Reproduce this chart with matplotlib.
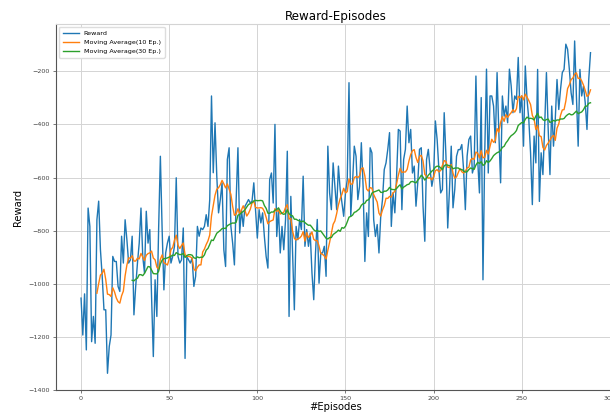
import matplotlib.pyplot as plt
import numpy as np
import pandas as pd

# rewards per episode
rewards = [
	-1054, -1193, -1038, -1249, -715, -784, -1218, -1123, -1224, -759,
	-689, -872, -972, -1098, -1098, -1337, -1236, -1193, -897, -916,
	-916, -1010, -1029, -821, -922, -759, -834, -922, -910, -821,
	-1117, -1010, -922, -847, -715, -897, -960, -727, -847, -796,
	-1048, -1274, -985, -1123, -796, -520, -796, -1023, -884, -847,
	-821, -922, -897, -859, -601, -897, -922, -910, -790, -1281,
	-897, -910, -922, -903, -1010, -972, -784, -821, -790, -796,
	-784, -740, -784, -683, -293, -582, -394, -595, -733, -683,
	-620, -872, -935, -532, -488, -784, -847, -929, -683, -488,
	-809, -721, -784, -708, -696, -683, -696, -689, -620, -721,
	-828, -721, -771, -733, -822, -897, -941, -608, -583, -696,
	-400, -822, -721, -884, -784, -872, -759, -501, -1123, -671,
	-878, -1098, -784, -834, -758, -796, -595, -859, -796, -859,
	-809, -960, -1060, -884, -758, -998, -884, -884, -859, -972,
	-482, -658, -721, -545, -633, -721, -557, -645, -696, -746,
	-658, -608, -243, -746, -620, -482, -520, -683, -633, -469,
	-633, -916, -733, -822, -488, -507, -758, -822, -777, -884,
	-746, -683, -570, -545, -494, -431, -784, -658, -733, -595,
	-419, -425, -721, -532, -494, -331, -469, -419, -583, -557,
	-708, -620, -494, -488, -708, -840, -532, -494, -570, -633,
	-595, -387, -457, -570, -658, -645, -356, -520, -790, -645,
	-482, -714, -645, -520, -495, -495, -476, -570, -721, -520,
	-457, -444, -583, -558, -218, -533, -658, -299, -985, -507,
	-192, -583, -293, -293, -331, -469, -205, -432, -620, -293,
	-369, -331, -394, -192, -255, -356, -293, -306, -148, -356,
	-293, -482, -180, -306, -382, -507, -702, -444, -545, -193,
	-690, -507, -589, -407, -205, -419, -589, -331, -482, -382,
	-231, -344, -268, -205, -193, -98, -117, -193, -281, -325,
	-86, -293, -482, -193, -293, -256, -318, -419, -231, -130,
]
series_labels = ['Reward', 'Moving Average(10 Ep.)', 'Moving Average(30 Ep.)']


def plot_rewards():
	reward = pd.Series(rewards)
	ma10 = reward.rolling(10).mean()
	ma30 = reward.rolling(30).mean()

	fig = plt.figure(figsize=(6.1, 4.15), dpi=100)
	ax = fig.add_axes([0.0911, 0.0602, 0.9187, 0.882])

	ax.plot(reward.index, reward, color='#1f77b4', lw=1.0, label=series_labels[0])
	ax.plot(ma10.index, ma10, color='#ff7f0e', lw=1.0, label=series_labels[1])
	ax.plot(ma30.index, ma30, color='#2ca02c', lw=1.0, label=series_labels[2])
	ax.set_ylim(-1400, -22)

	ax.set_title('Reward-Episodes', fontsize=8.6, pad=3)
	ax.set_xlabel('#Episodes', fontsize=7.2, labelpad=1)
	ax.set_ylabel('Reward', fontsize=7.2, labelpad=4)

	ax.grid(True, color='#d4d4d4', lw=0.7)
	ax.set_axisbelow(True)
	ax.tick_params(labelsize=4.6, colors='#444444', length=2, width=0.5, pad=2)
	ax.spines['left'].set_color('#555555')
	ax.spines['bottom'].set_color('#555555')
	ax.spines['top'].set_color('#d4d4d4')
	ax.spines['right'].set_color('#d4d4d4')

	ax.legend(loc='upper left', fontsize=4.6, framealpha=1, edgecolor='#dddddd',
		borderpad=0.6, handlelength=2.5)

	plt.savefig('out.png', dpi=100)


if __name__ == '__main__':
	plot_rewards()
